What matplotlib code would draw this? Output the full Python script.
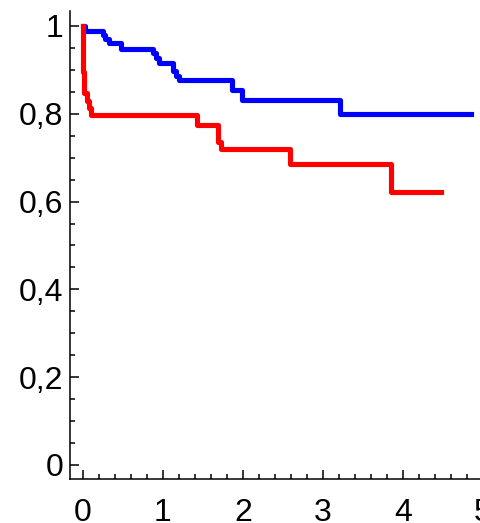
import matplotlib.pyplot as plt # Import pyplot for plotting
from matplotlib.ticker import MultipleLocator, FuncFormatter

## Survival curves (time, surviving fraction), step changes at each time
t_blue = [0.0, 0.03, 0.25, 0.28, 0.33, 0.48, 0.88, 0.92, 0.95, 1.13, 1.17, 1.20, 1.86, 1.99, 3.21, 4.85]
s_blue = [1.0, 0.989, 0.980, 0.970, 0.961, 0.948, 0.938, 0.928, 0.916, 0.898, 0.886, 0.877, 0.854, 0.831, 0.800, 0.800]

t_red = [0.0, 0.005, 0.02, 0.05, 0.08, 0.10, 1.43, 1.69, 1.73, 2.59, 3.85, 4.47]
s_red = [1.0, 0.896, 0.847, 0.828, 0.813, 0.798, 0.774, 0.735, 0.719, 0.685, 0.621, 0.621]

y_ticks = [0, 0.2, 0.4, 0.6, 0.8, 1]
x_ticks = [0, 1, 2, 3, 4, 5]

plt.rcParams['font.family'] = ['Liberation Sans', 'DejaVu Sans']

fig = plt.figure(figsize=(4.81, 5.23), dpi=100)
ax = fig.add_axes([0.1455, 0.0841, 0.867, 0.8956]) # right edge runs past the figure

ax.step(t_blue, s_blue, where='post', color=(0, 0, 1), lw=3.7)
ax.step(t_red, s_red, where='post', color=(1, 0, 0), lw=3.7)

ax.set_xlim(-0.16, 5.05)
ax.set_ylim(-0.032, 1.035)

# decimal comma labels
def comma(v, pos):
    return ('%g' % round(v, 2)).replace('.', ',')

ax.set_xticks(x_ticks)
ax.set_yticks(y_ticks)
ax.xaxis.set_major_formatter(FuncFormatter(comma))
ax.yaxis.set_major_formatter(FuncFormatter(comma))
ax.xaxis.set_minor_locator(MultipleLocator(0.2))
ax.yaxis.set_minor_locator(MultipleLocator(0.05))

for side in ['top', 'right']:
    ax.spines[side].set_visible(False)
for side in ['left', 'bottom']:
    ax.spines[side].set_linewidth(1.1)

ax.tick_params(which='both', direction='in', width=1.1, labelsize=23)
ax.tick_params(which='major', length=6.5)
ax.tick_params(which='minor', length=3.8)
ax.tick_params(axis='x', which='major', pad=14)
ax.tick_params(axis='y', which='major', pad=5)

fig.savefig('out.png', dpi=100)
